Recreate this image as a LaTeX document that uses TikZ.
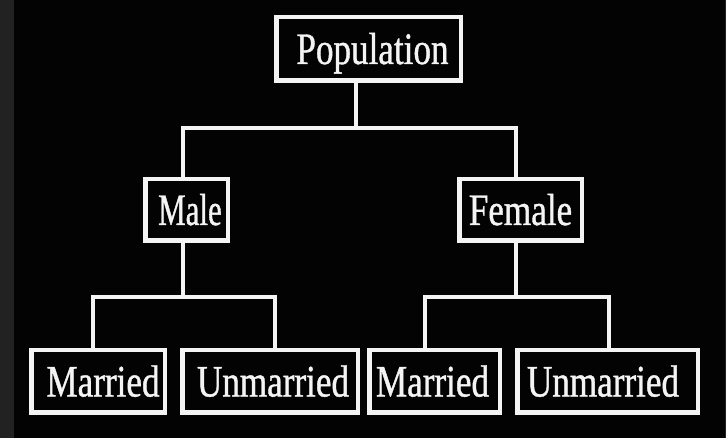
\documentclass[tikz,border=0pt]{standalone}
\usepackage{fontspec}
\setmainfont{Liberation Serif}[FakeStretch=0.78,FakeBold=0.9]
\definecolor{bg}{HTML}{030303}
\definecolor{strip}{HTML}{222222}
\definecolor{ink}{HTML}{F4F4F4}
\begin{document}
\begin{tikzpicture}[x=1pt,y=-1pt,
  box/.style={draw=ink, line width=4.5pt, fill=bg, text=ink, inner sep=0pt,
    font=\fontsize{45}{50}\selectfont, text height=30pt, text depth=0pt},
  conn/.style={draw=ink, line width=4pt, line join=miter}]
\useasboundingbox (0,0) rectangle (726,438);
\fill[bg] (0,0) rectangle (726,438);
\fill[strip] (0,0) rectangle (14,438);
\fill[strip] (725,0) rectangle (726,438);

\node[box, minimum width=184.5pt, minimum height=63.5pt] (pop) at (368.5,49) {\hspace*{8pt}Population};
\node[box, minimum width=82.5pt, minimum height=61.5pt] (male) at (186.5,210) {\hspace*{7pt}\scalebox{0.88}[1]{Male}};
\node[box, minimum width=122.5pt, minimum height=61.5pt] (female) at (520.5,210) {Female};
\node[box, minimum width=133.5pt, minimum height=62.5pt] (m1) at (98,381.5) {\hspace*{10pt}Married};
\node[box, minimum width=175.5pt, minimum height=62.5pt] (u1) at (270,381.5) {\hspace*{6pt}Unmarried};
\node[box, minimum width=130.5pt, minimum height=62.5pt] (m2) at (434.5,381.5) {Married\hspace*{4pt}};
\node[box, minimum width=180.5pt, minimum height=62.5pt] (u2) at (607.5,381.5) {Unmarried\hspace*{9pt}};

\coordinate (j1) at (356,128);
\coordinate (j2) at (183,297);
\coordinate (j3) at (516,297);
\draw[conn] (pop.south -| j1) -- (j1);
\draw[conn] ([xshift=-3.5pt]male.north) |- (j1) -| ([xshift=-4.5pt]female.north);
\draw[conn] (male.south -| j2) -- (j2);
\draw[conn] ([xshift=-5pt]m1.north) |- (j2) -| ([xshift=5pt]u1.north);
\draw[conn] (female.south -| j3) -- (j3);
\draw[conn] ([xshift=-9.5pt]m2.north) |- (j3) -| ([xshift=1.5pt]u2.north);
\end{tikzpicture}
\end{document}
